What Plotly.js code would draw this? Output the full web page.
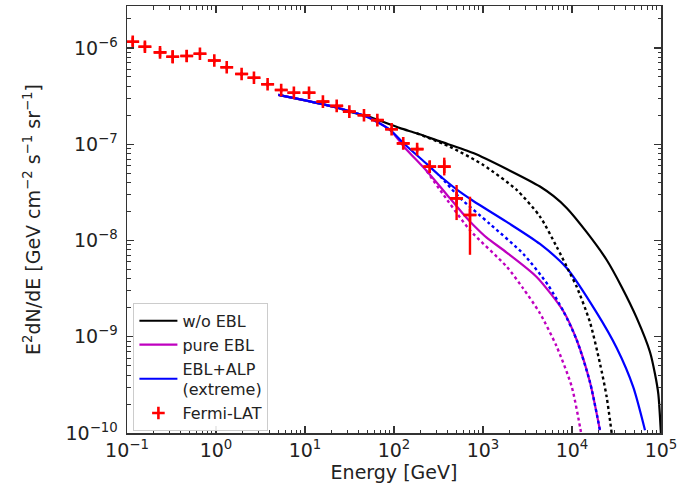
<!DOCTYPE html>
<html>
<head>
<meta charset="utf-8">
<script src="https://cdn.plot.ly/plotly-3.0.1.min.js"></script>
<style>
  html, body { margin: 0; padding: 0; background: #ffffff; }
  #chart { width: 693px; height: 493px; }
</style>
</head>
<body>
<div id="chart"></div>
<script>
// Fermi-LAT spectral points: energy [GeV], E^2 dN/dE, asymmetric errors and bin edges
const fermiE    = [0.116, 0.159, 0.235, 0.326, 0.469, 0.66, 0.957, 1.32, 1.94, 2.67, 3.8, 5.4, 7.5,
                   11.1, 15.9, 22.7, 31.5, 46, 65, 94, 127, 182, 252, 367, 505, 714];
const fermiF    = [1.16e-6, 1.03e-6, 9.0e-7, 8.1e-7, 8.26e-7, 8.7e-7, 7.4e-7, 6.3e-7, 5.37e-7, 4.9e-7,
                   4.2e-7, 3.66e-7, 3.43e-7, 3.43e-7, 2.77e-7, 2.5e-7, 2.18e-7, 2.0e-7, 1.78e-7, 1.43e-7,
                   1.02e-7, 8.9e-8, 5.85e-8, 5.85e-8, 2.74e-8, 1.84e-8];
const fermiErrUp   = [1.3e-7, 1.3e-7, 1.0e-7, 1.4e-7, 1.27e-7, 4.2e-8, 3.6e-8, 3.1e-8, 2.6e-8, 2.4e-8,
                      2.1e-8, 1.8e-8, 1.7e-8, 1.7e-8, 1.4e-8, 1.2e-8, 1.1e-8, 1.0e-8, 9e-9, 7e-9,
                      6e-9, 6e-9, 8.5e-9, 1.4e-8, 1.03e-8, 1.01e-8];
const fermiErrDown = [1.2e-7, 1.1e-7, 9e-8, 1.2e-7, 1.1e-7, 4.0e-8, 3.6e-8, 3.1e-8, 2.6e-8, 2.4e-8,
                      2.1e-8, 1.8e-8, 1.7e-8, 1.7e-8, 1.4e-8, 1.2e-8, 1.1e-8, 1.0e-8, 9e-9, 7e-9,
                      6e-9, 6e-9, 7.6e-9, 1.11e-8, 1.11e-8, 1.13e-8];
const fermiELow  = [0.098, 0.134, 0.199, 0.276, 0.397, 0.558, 0.809, 1.12, 1.64, 2.26, 3.21, 4.57, 6.34,
                    9.38, 13.4, 19.2, 26.6, 38.9, 55.0, 79.5, 107, 154, 213, 310, 427, 604];
const fermiEHigh = [0.137, 0.188, 0.278, 0.386, 0.555, 0.781, 1.13, 1.56, 2.30, 3.16, 4.50, 6.39, 8.87,
                    13.1, 18.8, 26.9, 37.3, 54.4, 76.9, 111, 150, 215, 298, 434, 597, 845];

// Model spectra (solid: default, dotted: alternative)
const noEblE = [5.01, 20.8, 32.1, 58.5, 117, 180, 329, 778, 1845, 4365, 6170, 8710, 14620, 24550, 36160, 53300, 75200, 85650, 93350, 100000];
const noEblF = [3.25e-7, 2.45e-7, 2.18e-7, 1.86e-7, 1.47e-7, 1.30e-7, 1.07e-7, 8.1e-8, 5.53e-8, 3.64e-8, 2.9e-8, 2.18e-8, 1.22e-8, 6.27e-9, 3.29e-9, 1.57e-9, 6.95e-10, 4.1e-10, 2.54e-10, 9.5e-11];

const noEblDotE = [180, 426, 1007, 2390, 4365, 6730, 9500, 11300, 15900, 20600, 24500, 27900];
const noEblDotF = [1.30e-7, 9.4e-8, 6.08e-8, 3.35e-8, 1.77e-8, 8.6e-9, 4.56e-9, 3.3e-9, 1.42e-9, 5.3e-10, 2.38e-10, 1.0e-10];

const pureEblE = [5.01, 20.8, 49.3, 90.2, 127, 233, 329, 391, 656, 778, 1100, 1845, 4010, 7980, 11300, 15900, 20600];
const pureEblF = [3.25e-7, 2.45e-7, 1.93e-7, 1.41e-7, 9.6e-8, 5.27e-8, 3.64e-8, 3.01e-8, 1.71e-8, 1.45e-8, 1.07e-8, 7.5e-9, 4.18e-9, 1.85e-9, 9.25e-10, 3.39e-10, 1.07e-10];

const pureEblDotE = [233, 329, 714, 1845, 2810, 4365, 6730, 9930, 12300, 12900];
const pureEblDotF = [5.27e-8, 3.35e-8, 1.28e-8, 5.35e-9, 3.2e-9, 1.75e-9, 7.9e-10, 3.03e-10, 1.16e-10, 9.0e-11];

const alpE = [5.01, 20.8, 49.3, 90.2, 127, 233, 329, 552, 778, 1845, 4365, 8710, 19000, 31800, 48800, 66100];
const alpF = [3.25e-7, 2.45e-7, 1.93e-7, 1.41e-7, 1.03e-7, 6.24e-8, 4.68e-8, 3.19e-8, 2.57e-8, 1.56e-8, 9.2e-9, 5.18e-9, 1.77e-9, 7.64e-10, 3.0e-10, 1.07e-10];

const alpDotE = [329, 552, 1200, 2840, 5370, 7980, 11300, 15900, 20600];
const alpDotF = [4.68e-8, 2.77e-8, 1.48e-8, 7.24e-9, 3.45e-9, 1.85e-9, 9.25e-10, 3.39e-10, 1.07e-10];

const xTickVals = [0.1, 1, 10, 100, 1000, 10000, 100000];
const xTickText = ['10<sup>−1</sup>', '10<sup>0</sup>', '10<sup>1</sup>', '10<sup>2</sup>',
                   '10<sup>3</sup>', '10<sup>4</sup>', '10<sup>5</sup>'];
const yTickVals = [1e-10, 1e-9, 1e-8, 1e-7, 1e-6];
const yTickText = ['10<sup>−10</sup>', '10<sup>−9</sup>', '10<sup>−8</sup>', '10<sup>−7</sup>', '10<sup>−6</sup>'];

const X_RANGE = [-1, 5];
const Y_RANGE = [-10, -5.564];

// minor tick positions (2..9 within each decade)
function minorTicks(kFrom, kTo) {
  const out = [];
  for (let k = kFrom; k <= kTo; k++) {
    for (let d = 2; d <= 9; d++) out.push(d * Math.pow(10, k));
  }
  return out;
}

const BLACK = '#000000';
const MAGENTA = '#bf00bf';
const BLUE = '#0000ff';
const RED = '#ff0000';

function curve(x, y, color, dash, name, show) {
  return {
    x: x, y: y, type: 'scatter', mode: 'lines', name: name,
    showlegend: show,
    line: { color: color, width: dash === 'solid' ? 2.2 : 2.4, dash: dash, shape: 'spline', smoothing: 0.7 },
    hoverinfo: 'skip'
  };
}

const traces = [
  curve(noEblE, noEblF, BLACK, 'solid', 'w/o EBL', true),
  curve(pureEblE, pureEblF, MAGENTA, 'solid', 'pure EBL', true),
  curve(alpE, alpF, BLUE, 'solid', 'EBL+ALP<br>(extreme)', true),
  curve(noEblDotE, noEblDotF, BLACK, 'dot', 'w/o EBL dotted', false),
  curve(pureEblDotE, pureEblDotF, MAGENTA, 'dot', 'pure EBL dotted', false),
  curve(alpDotE, alpDotF, BLUE, 'dot', 'EBL+ALP dotted', false),
  {
    x: fermiE, y: fermiF, type: 'scatter', mode: 'markers', name: 'Fermi-LAT',
    marker: { symbol: 'cross-thin', size: 9, color: RED, line: { color: RED, width: 2.6 } },
    error_y: { type: 'data', symmetric: false, array: fermiErrUp, arrayminus: fermiErrDown,
               color: RED, thickness: 2.4, width: 0 },
    error_x: { type: 'data', symmetric: false,
               array: fermiE.map((e, i) => fermiEHigh[i] - e),
               arrayminus: fermiE.map((e, i) => e - fermiELow[i]),
               color: RED, thickness: 2.4, width: 0 }
  },
  // empty trace that carries the top/right tick axes
  { x: [], y: [], type: 'scatter', mode: 'lines', xaxis: 'x2', yaxis: 'y2', showlegend: false, hoverinfo: 'skip' }
];

const axisFont = { family: 'DejaVu Sans, sans-serif', size: 19, color: '#222222' };
const titleFont = { family: 'DejaVu Sans, sans-serif', size: 19, color: '#222222' };

const tickStyle = { ticks: 'inside', ticklen: 7, tickwidth: 1.2, tickcolor: '#333333' };
const minorStyle = { ticks: 'inside', ticklen: 3.5, tickwidth: 1, tickcolor: '#333333' };

const layout = {
  width: 693, height: 493,
  margin: { l: 127, r: 32, t: 6, b: 60 },
  paper_bgcolor: '#ffffff', plot_bgcolor: '#ffffff',
  font: { family: 'DejaVu Sans, sans-serif', color: '#222222' },
  showlegend: true,
  legend: {
    x: 0.012, y: 0.005, xanchor: 'left', yanchor: 'bottom',
    bgcolor: 'rgba(255,255,255,0.9)', bordercolor: '#cccccc', borderwidth: 1,
    font: { family: 'DejaVu Sans, sans-serif', size: 16, color: '#222222' },
    tracegroupgap: 0, itemwidth: 38
  },
  xaxis: Object.assign({
    type: 'log', range: X_RANGE,
    tickmode: 'array', tickvals: xTickVals, ticktext: xTickText,
    minor: Object.assign({ tickmode: 'array', tickvals: minorTicks(-1, 4) }, minorStyle),
    showline: true, linecolor: '#333333', linewidth: 1.5, mirror: true,
    showgrid: false, zeroline: false,
    tickfont: axisFont,
    title: { text: 'Energy [GeV]', font: titleFont, standoff: 4 }
  }, tickStyle),
  yaxis: Object.assign({
    type: 'log', range: Y_RANGE,
    tickmode: 'array', tickvals: yTickVals, ticktext: yTickText,
    minor: Object.assign({ tickmode: 'array', tickvals: minorTicks(-10, -6) }, minorStyle),
    showline: true, linecolor: '#333333', linewidth: 1.5, mirror: true,
    showgrid: false, zeroline: false,
    tickfont: axisFont, ticklabelstandoff: 4,
    title: { text: 'E<sup>2</sup>dN/dE [GeV cm<sup>−2</sup> s<sup>−1</sup> sr<sup>−1</sup>]',
             font: titleFont, standoff: 20 }
  }, tickStyle),
  xaxis2: Object.assign({
    type: 'log', range: X_RANGE, overlaying: 'x', side: 'top', anchor: 'y2',
    tickmode: 'array', tickvals: xTickVals, showticklabels: false,
    minor: Object.assign({ tickmode: 'array', tickvals: minorTicks(-1, 4) }, minorStyle),
    showline: false, showgrid: false, zeroline: false
  }, tickStyle),
  yaxis2: Object.assign({
    type: 'log', range: Y_RANGE, overlaying: 'y', side: 'right', anchor: 'x2',
    tickmode: 'array', tickvals: yTickVals, showticklabels: false,
    minor: Object.assign({ tickmode: 'array', tickvals: minorTicks(-10, -6) }, minorStyle),
    showline: false, showgrid: false, zeroline: false
  }, tickStyle)
};

Plotly.newPlot('chart', traces, layout, { staticPlot: true, displayModeBar: false });
</script>
</body>
</html>
